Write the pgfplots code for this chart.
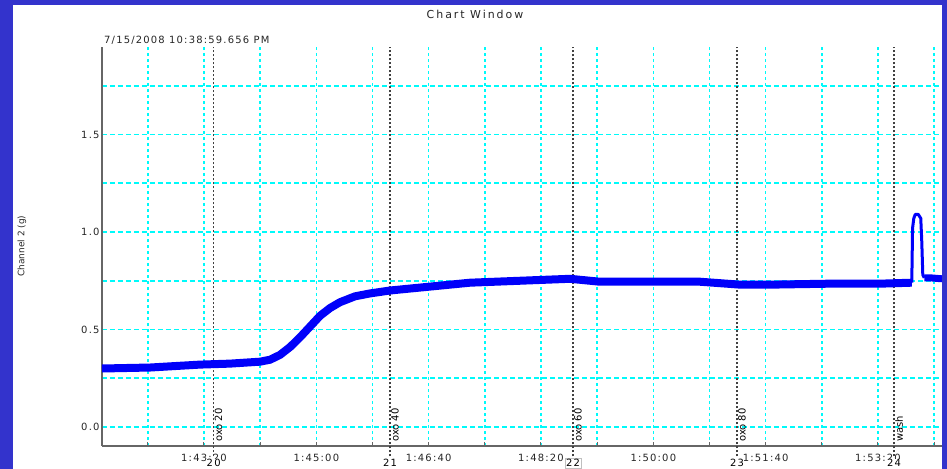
\documentclass[border=0pt]{standalone}
\usepackage{fontspec}
\setmainfont{DejaVu Sans}
\newfontfamily\uifont[LetterSpace=12]{DejaVu Sans}
\newfontfamily\titlefont[LetterSpace=18]{DejaVu Sans}
\usepackage{pgfplots}
\pgfplotsset{compat=1.18}

\definecolor{frameblue}{RGB}{51,51,204}
\definecolor{traceblue}{RGB}{0,0,250}
\definecolor{gridcyan}{RGB}{0,250,250}

% x in seconds of clock time: 6200 = 1:43:20
\begin{document}
\begin{tikzpicture}
\useasboundingbox (-102bp,-23bp) rectangle (845bp,446bp);
\fill[frameblue] (-102bp,-23bp) rectangle (845bp,446bp);
\fill[white] (-89bp,-23bp) rectangle (840bp,441bp);

\begin{axis}[
    at={(0,0)}, anchor=south west,
    scale only axis, width=840bp, height=399bp,
    xmin=6109.2, xmax=6857, ymin=-0.0974, ymax=1.9487,
    axis lines*=left,
    axis line style={draw=black!60, line width=1.2bp},
    clip=false,
    xtick={6150,6200,...,6850},
    xticklabels={,1:43:20,,1:45:00,,1:46:40,,1:48:20,,1:50:00,,1:51:40,,1:53:20,},
    ytick={0,0.25,...,1.75},
    yticklabels={0.0,,0.5,,1.0,,1.5,},
    xmajorgrids, ymajorgrids,
    x grid style={gridcyan, line width=1.6bp, dash pattern=on 3bp off 3bp},
    y grid style={gridcyan, line width=1.6bp, dash pattern=on 5bp off 3bp},
    tick align=inside,
    major tick length=3.5bp,
    xtick style={draw=black!60, line width=1bp},
    ytick style={draw=none},
    tick label style={font=\uifont\fontsize{10}{12}\selectfont, text=black!85},
    xticklabel style={yshift=-5bp},
    yticklabel style={xshift=1bp},
]
% event markers
\addplot[black!75, line width=1.2bp, dash pattern=on 2bp off 2bp] coordinates {(6208.6,-0.15) (6208.6,1.9487)};
\addplot[black!75, line width=1.2bp, dash pattern=on 2bp off 2bp] coordinates {(6365.6,-0.15) (6365.6,1.9487)};
\addplot[black!75, line width=1.2bp, dash pattern=on 2bp off 2bp] coordinates {(6528.5,-0.15) (6528.5,1.9487)};
\addplot[black!75, line width=1.2bp, dash pattern=on 2bp off 2bp] coordinates {(6674.5,-0.15) (6674.5,1.9487)};
\addplot[black!75, line width=1.2bp, dash pattern=on 2bp off 2bp] coordinates {(6814.3,-0.15) (6814.3,1.9487)};

% trace
\addplot[traceblue, line width=8bp, line join=round] coordinates {
(6109.2,0.300) (6151.9,0.305) (6196.4,0.320) (6223.1,0.325) (6249.9,0.335)
(6258.8,0.345) (6267.7,0.370) (6276.6,0.410) (6285.5,0.460) (6294.4,0.515)
(6303.3,0.570) (6312.2,0.610) (6321.1,0.640) (6334.4,0.670) (6347.8,0.685)
(6365.6,0.700) (6401.2,0.720) (6436.8,0.740) (6481.3,0.750) (6525.8,0.760)
(6552.5,0.745) (6588.1,0.745) (6641.6,0.745) (6677.2,0.730) (6703.9,0.730)
(6757.3,0.735) (6801.8,0.735) (6830.1,0.740)
};
\addplot[traceblue, line width=3bp, line join=round] coordinates {
(6830.1,0.740) (6830.8,1.020) (6831.9,1.070) (6833.2,1.090) (6835.9,1.090)
(6838.1,1.070) (6839.0,0.950) (6839.9,0.780) (6841.2,0.765)
};
\addplot[traceblue, line width=7bp, line join=round] coordinates {
(6841.2,0.765) (6846.3,0.765) (6857.0,0.760)
};

\pgfplotsset{every node/.append style={font=\fontsize{8}{9}\selectfont, text=black!85}}
\node[rotate=90, anchor=north west, inner sep=1bp] at (axis cs:6208.6,-0.082) {oxo 20};
\node[rotate=90, anchor=north west, inner sep=1bp] at (axis cs:6365.6,-0.082) {oxo 40};
\node[rotate=90, anchor=north west, inner sep=1bp] at (axis cs:6528.5,-0.082) {oxo 60};
\node[rotate=90, anchor=north west, inner sep=1bp] at (axis cs:6674.5,-0.082) {oxo 80};
\node[rotate=90, anchor=north west, inner sep=1bp] at (axis cs:6814.3,-0.082) {wash};

\node[fill=white, inner sep=0.5bp, font=\uifont\fontsize{10}{12}\selectfont] at (axis cs:6208.6,-0.185) {20};
\node[fill=white, inner sep=0.5bp, font=\uifont\fontsize{10}{12}\selectfont] at (axis cs:6365.6,-0.185) {21};
\node[fill=white, draw=black!25, inner sep=1bp, font=\uifont\fontsize{10}{12}\selectfont] at (axis cs:6528.5,-0.185) {22};
\node[fill=white, inner sep=0.5bp, font=\uifont\fontsize{10}{12}\selectfont] at (axis cs:6674.5,-0.185) {23};
\node[fill=white, inner sep=0.5bp, font=\uifont\fontsize{10}{12}\selectfont] at (axis cs:6814.3,-0.185) {24};
\end{axis}

\fill[frameblue] (840bp,-23bp) rectangle (845bp,446bp);
\node[font=\titlefont\fontsize{11}{13}\selectfont, text=black!85] at (373bp,432bp) {Chart Window};
\node[anchor=west, inner sep=0pt, font=\uifont\fontsize{10}{12}\selectfont, text=black!85] at (2bp,406bp) {7/15/2008 10:38:59.656 PM};
\node[rotate=90, font=\fontsize{9}{10}\selectfont, text=black!85] at (-80bp,200bp) {Channel 2 (g)};
\end{tikzpicture}
\end{document}
